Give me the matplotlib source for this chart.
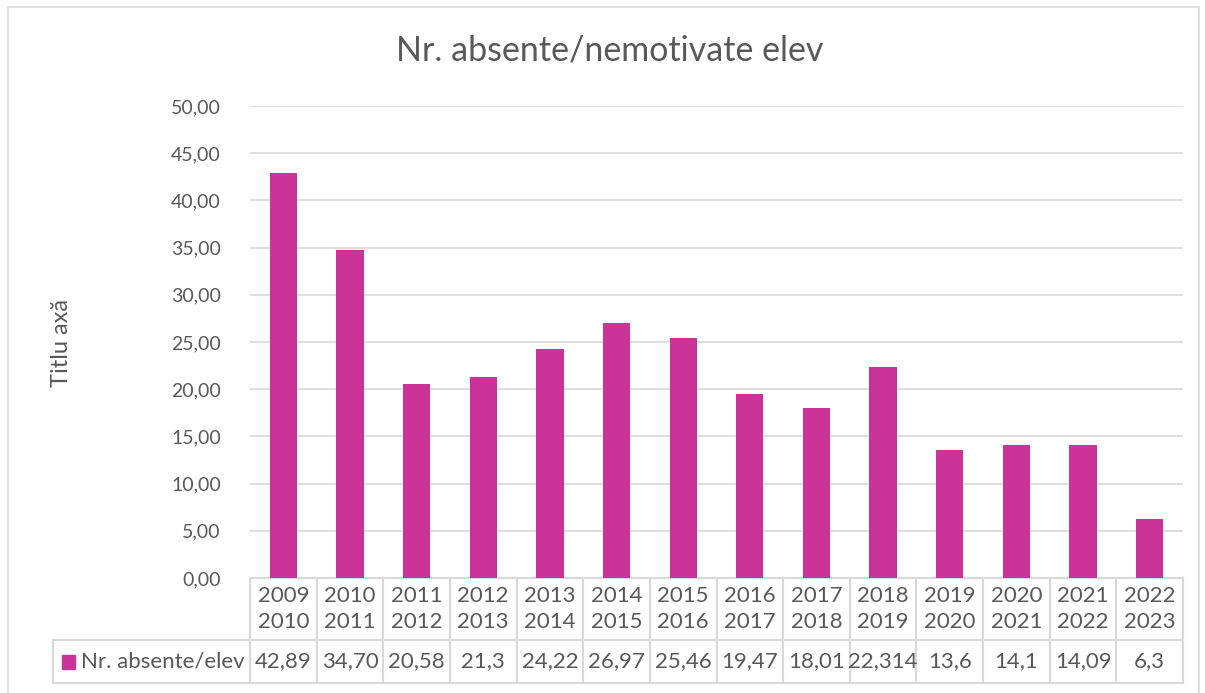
import matplotlib.pyplot as plt
from matplotlib.patches import Rectangle
from matplotlib.lines import Line2D

years = ["2009\n2010", "2010\n2011", "2011\n2012", "2012\n2013", "2013\n2014",
         "2014\n2015", "2015\n2016", "2016\n2017", "2017\n2018", "2018\n2019",
         "2019\n2020", "2020\n2021", "2021\n2022", "2022\n2023"]
values = [42.89, 34.70, 20.58, 21.3, 24.22, 26.97, 25.46, 19.47, 18.01, 22.314,
          13.6, 14.1, 14.09, 6.3]
value_labels = ["42,89", "34,70", "20,58", "21,3", "24,22", "26,97", "25,46",
                "19,47", "18,01", "22,314", "13,6", "14,1", "14,09", "6,3"]
series_name = "Nr. absente/elev"

plt.rcParams['font.family'] = ['Lato', 'DejaVu Sans']
txt = '#595959'
grid = '#D9D9D9'
bar_color = '#CC3399'

W, H = 1205, 693
fig = plt.figure(figsize=(W / 100, H / 100), dpi=100)

# outer chart border
fig.patches.append(Rectangle((8 / W, -0.01), (1199 - 8) / W, 1 - 7 / H + 0.01,
                             transform=fig.transFigure, fill=False,
                             edgecolor=grid, linewidth=1.2))

x0, x1, y0, y1 = 250, 1183, 578, 106
ax = fig.add_axes([x0 / W, 1 - y0 / H, (x1 - x0) / W, (y0 - y1) / H])

n = len(values)
ax.bar(range(n), values, width=0.41, color=bar_color, zorder=3)
ax.set_xlim(-0.5, n - 0.5)
ax.set_ylim(0, 50)
ax.set_yticks(range(0, 51, 5))
ax.set_yticklabels([f"{v},00" for v in range(0, 51, 5)], fontsize=14, color=txt)
ax.tick_params(axis='y', length=0, pad=21)
ax.set_xticks([])
ax.grid(axis='y', color=grid, linewidth=1.2, zorder=0)
for s in ax.spines.values():
    s.set_visible(False)

fig.text(610 / W, 1 - 50 / H, "Nr. absente/nemotivate elev", fontsize=24.5,
         color=txt, ha='center', va='center')
fig.text(62 / W, 1 - 343 / H, "Titlu axă", rotation=90, fontsize=17,
         color=txt, ha='center', va='center')

# data table below the axis
h_px = y0 - y1
row1 = -(640 - y0) / h_px
row2 = -(683 - y0) / h_px
leg_left = (53 - x0) / (x1 - x0)
T = ax.transAxes
lk = dict(color=grid, linewidth=1.5, transform=T, clip_on=False)
ax.add_line(Line2D([0, 1], [0, 0], **lk))
ax.add_line(Line2D([leg_left, 1], [row1, row1], **lk))
ax.add_line(Line2D([leg_left, 1], [row2, row2], **lk))
ax.add_line(Line2D([leg_left, leg_left], [row1, row2], **lk))
for i in range(n + 1):
    ax.add_line(Line2D([i / n, i / n], [0, row2], **lk))
for i in range(n):
    xc = (i + 0.5) / n
    ax.text(xc, row1 / 2, years[i], transform=T, ha='center', va='center',
            fontsize=16, color=txt, linespacing=1.4)
    ax.text(xc, (row1 + row2) / 2, value_labels[i], transform=T, ha='center',
            va='center', fontsize=16, color=txt)
ax.add_patch(Rectangle((leg_left + 9 / 933, (row1 + row2) / 2 - 7 / h_px),
                       13 / 933, 14 / h_px, transform=T, color=bar_color,
                       clip_on=False))
ax.text(leg_left + 28 / 933, (row1 + row2) / 2, series_name, transform=T,
        ha='left', va='center', fontsize=16, color=txt)

fig.savefig("out.png", dpi=100)
